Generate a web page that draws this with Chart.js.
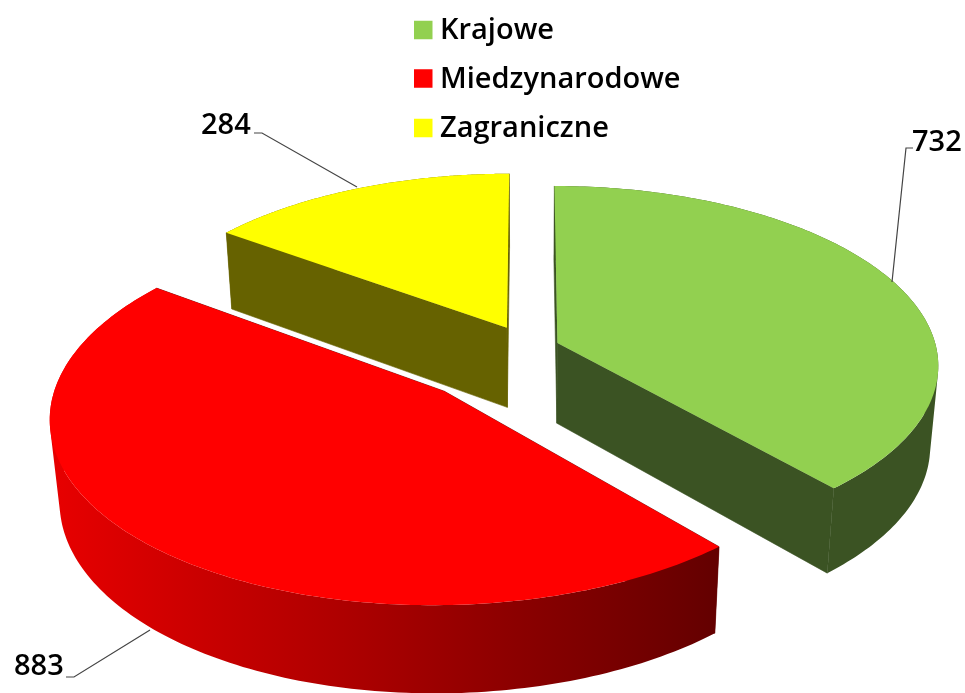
<!DOCTYPE html>
<html>
<head>
<meta charset="utf-8">
<title>Pie</title>
<style>html,body{margin:0;padding:0;background:#fff}canvas{display:block}</style>
<script src="https://cdn.jsdelivr.net/npm/chart.js@4"></script>
</head>
<body>
<canvas id="c" width="965" height="693"></canvas>
<script>
const categories = ["Krajowe", "Miedzynarodowe", "Zagraniczne"];
const values = [732, 883, 284];
const topColors = ["#92D050", "#FF0000", "#FFFF00"];
const wallColors = ["#3B5323", "#640000", "#666200"];
const rimLeft = ["#3B5323", "#E60000", "#666200"];
const rimRight = ["#3B5323", "#640000", "#666200"];
const offsets = [24, 96, 39];

const view = { cx: 529, cy: 348, sx: 379, sy: 177, persp: 0.12, depth: 82, depthPersp: 0.02 };
const labelFont = '600 29px "Open Sans"';
const legendLayout = { boxX: 414, textX: 440, rowY: [30, 78.5, 128], box: 18.5, textDy: 1 };
const calloutLayout = [
  { tx: 912, ty: 143, pts: [[913,148],[906,148],[892,282]] },
  { tx: 14, ty: 667, pts: [[66,677],[74,677],[150,630]] },
  { tx: 201, ty: 126, pts: [[254,133],[262,133],[357,187]] }
];

function project(X, Y, z) {
  const w = 1 - view.persp * Y + view.depthPersp * z;
  return [view.cx + view.sx * X / w, view.cy + (view.sy * Y + view.depth * z) / w];
}
function addPoly(ctx, pts) {
  pts.forEach((p, i) => i ? ctx.lineTo(p[0], p[1]) : ctx.moveTo(p[0], p[1]));
  ctx.closePath();
}
function poly(ctx, pts) {
  ctx.beginPath();
  addPoly(ctx, pts);
}
function signedArea(pts) {
  let s = 0;
  pts.forEach((p, i) => {
    const q = pts[(i + 1) % pts.length];
    s += p[0] * q[1] - q[0] * p[1];
  });
  return s;
}

const pie3d = {
  id: "pie3d",
  beforeDatasetDraw(chart) {
    const ctx = chart.ctx;
    const arcs = chart.getDatasetMeta(0).data;
    const order = arcs.map((a, i) => i).sort((a, b) =>
      Math.sin((arcs[a].startAngle + arcs[a].endAngle) / 2) - Math.sin((arcs[b].startAngle + arcs[b].endAngle) / 2));
    order.forEach(i => {
      const a = arcs[i], R = a.outerRadius;
      const mid = (a.startAngle + a.endAngle) / 2;
      const off = a.options.offset / R;
      const ox = off * Math.cos(mid), oy = off * Math.sin(mid);
      const n = 160;
      const rim = z => {
        const out = [];
        for (let k = 0; k <= n; k++) {
          const t = a.startAngle + (a.endAngle - a.startAngle) * k / n;
          out.push(project(ox + Math.cos(t), oy + Math.sin(t), z));
        }
        return out;
      };
      const t0 = rim(0), b0 = rim(1);
      const apexT = project(ox, oy, 0), apexB = project(ox, oy, 1);
      ctx.fillStyle = wallColors[i];
      ctx.strokeStyle = wallColors[i];
      ctx.lineWidth = 0.6;
      poly(ctx, [apexT, t0[0], b0[0], apexB]); ctx.fill(); ctx.stroke();
      poly(ctx, [apexT, t0[n], b0[n], apexB]); ctx.fill(); ctx.stroke();
      const xs = b0.map(p => p[0]);
      const g = ctx.createLinearGradient(Math.min(...xs), 0, Math.max(...xs), 0);
      g.addColorStop(0, rimLeft[i]);
      g.addColorStop(1, rimRight[i]);
      ctx.fillStyle = g;
      ctx.beginPath();
      for (let k = 0; k < n; k++) {
        let q = [t0[k], t0[k + 1], b0[k + 1], b0[k]];
        if (signedArea(q) < 0) q = q.reverse();
        addPoly(ctx, q);
      }
      ctx.fill("nonzero");
      ctx.fillStyle = topColors[i];
      poly(ctx, [apexT].concat(t0)); ctx.fill();
    });
    return false;
  },
  afterDraw(chart) {
    const ctx = chart.ctx;
    ctx.save();
    ctx.font = labelFont;
    ctx.textBaseline = "middle";
    ctx.textAlign = "left";
    categories.forEach((name, i) => {
      ctx.fillStyle = topColors[i];
      ctx.fillRect(legendLayout.boxX, legendLayout.rowY[i] - legendLayout.box / 2, legendLayout.box, legendLayout.box);
      ctx.fillStyle = "#000";
      ctx.fillText(name, legendLayout.textX, legendLayout.rowY[i] + legendLayout.textDy);
    });
    values.forEach((v, i) => {
      const c = calloutLayout[i];
      ctx.strokeStyle = "#444";
      ctx.lineWidth = 1.2;
      ctx.beginPath();
      c.pts.forEach((p, k) => k ? ctx.lineTo(p[0], p[1]) : ctx.moveTo(p[0], p[1]));
      ctx.stroke();
      ctx.fillStyle = "#000";
      ctx.fillText(String(v), c.tx, c.ty);
    });
    ctx.restore();
  }
};

new Chart(document.getElementById("c"), {
  type: "pie",
  data: {
    labels: categories,
    datasets: [{ data: values, backgroundColor: topColors, borderWidth: 0, offset: offsets }]
  },
  options: {
    responsive: false,
    animation: false,
    plugins: { legend: { display: false }, tooltip: { enabled: false } }
  },
  plugins: [pie3d]
});
</script>
</body>
</html>
